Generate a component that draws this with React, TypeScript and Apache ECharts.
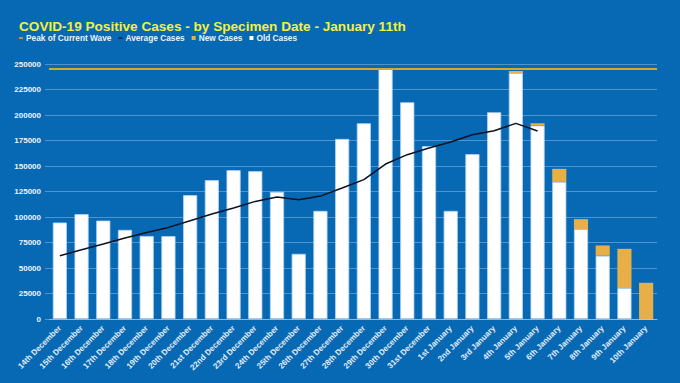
import React, { useEffect, useRef } from "react";
import * as echarts from "echarts";

const categories = [
  "14th December", "15th December", "16th December", "17th December", "18th December",
  "19th December", "20th December", "21st December", "22nd December", "23rd December",
  "24th December", "25th December", "26th December", "27th December", "28th December",
  "29th December", "30th December", "31st December", "1st January", "2nd January",
  "3rd January", "4th January", "5th January", "6th January", "7th January",
  "8th January", "9th January", "10th January",
];

const oldCases = [
  94600, 102800, 96500, 87400, 81300, 81300, 121400, 136100, 145900, 144900,
  124700, 63900, 106000, 176500, 191900, 245400, 212500, 169400, 106000, 161600,
  202700, 241200, 189600, 134400, 88100, 62000, 30400, 0,
];

const newCases = [
  0, 0, 0, 0, 0, 0, 0, 0, 0, 0,
  0, 0, 0, 0, 0, 0, 0, 0, 0, 0,
  0, 1900, 2300, 12800, 9800, 10100, 38400, 35500,
];

const averageCases = [
  62000, 67900, 73500, 79400, 84900, 89800, 96400, 102900, 108800, 115300,
  119600, 116900, 120500, 128400, 136600, 151900, 161100, 167600, 173500, 180700,
  184600, 191800, 184300, null, null, null, null, null,
];

const peakOfWave = [245400];

const yTicks = { min: 0, max: 250000, interval: 25000 };

const BG = "#0769b4";
const GRID = "#4f94cf";

export default function App() {
  const ref = useRef<HTMLDivElement>(null);

  useEffect(() => {
    if (!ref.current) return;
    const chart = echarts.init(ref.current, undefined, { renderer: "svg" });
    const font = "'Liberation Sans', Arial, sans-serif";
    const dash = "path://M0,1.2H4V2.8H0Z";
    chart.setOption({
      animation: false,
      backgroundColor: BG,
      textStyle: { fontFamily: font },
      title: {
        text: "COVID-19 Positive Cases - by Specimen Date - January 11th",
        left: 19,
        top: 19,
        padding: 0,
        textStyle: { color: "#f4f03c", fontSize: 13.6, fontWeight: "bold", fontFamily: font },
      },
      legend: {
        left: 19,
        top: 34,
        padding: 0,
        itemGap: 7,
        itemWidth: 4,
        itemHeight: 4,
        textStyle: { color: "#eef3fa", fontSize: 8.3, fontWeight: "bold", fontFamily: font, padding: [0, 0, 0, -2] },
        data: [
          { name: "Peak of Current Wave", icon: dash, itemStyle: { color: "#e0a92a", borderWidth: 0 } },
          { name: "Average Cases", icon: dash, itemStyle: { color: "#0c1e38", borderWidth: 0 } },
          { name: "New Cases", icon: "rect", itemStyle: { color: "#e8ae48", borderWidth: 0 } },
          { name: "Old Cases", icon: "rect", itemStyle: { color: "#ffffff", borderWidth: 0 } },
        ],
      },
      grid: { left: 49, right: 23, top: 64, bottom: 64 },
      xAxis: {
        type: "category",
        data: categories,
        axisLine: { lineStyle: { color: "#8cb7e0", width: 1 } },
        axisTick: { show: false },
        axisLabel: {
          rotate: 45,
          interval: 0,
          margin: 8,
          color: "#e6eef8",
          fontSize: 8,
          fontWeight: "bold",
          fontFamily: font,
        },
      },
      yAxis: {
        type: "value",
        min: yTicks.min,
        max: yTicks.max,
        interval: yTicks.interval,
        axisLine: { show: false },
        axisTick: { show: true, length: 4, lineStyle: { color: GRID } },
        splitLine: { lineStyle: { color: GRID, width: 1 } },
        axisLabel: {
          margin: 8,
          color: "#eef3fa",
          fontSize: 8,
          fontWeight: "bold",
          fontFamily: font,
          formatter: (v: number) => String(v),
        },
      },
      series: [
        {
          name: "Old Cases",
          type: "bar",
          stack: "total",
          data: oldCases,
          barCategoryGap: "35%",
          itemStyle: { color: "#ffffff", borderColor: "#b4d2ee", borderWidth: 0.8 },
        },
        {
          name: "New Cases",
          type: "bar",
          stack: "total",
          data: newCases,
          itemStyle: { color: "#e8ae48", borderWidth: 0 },
        },
        {
          name: "Average Cases",
          type: "line",
          data: averageCases,
          showSymbol: false,
          symbol: "none",
          connectNulls: false,
          lineStyle: { color: "#0c1220", width: 1.5 },
          itemStyle: { color: "#0c1e38" },
          z: 5,
        },
        {
          name: "Peak of Current Wave",
          type: "line",
          data: [],
          itemStyle: { color: "#e0a92a" },
          markLine: {
            silent: true,
            symbol: "none",
            label: { show: false },
            lineStyle: { color: "#d8a82a", width: 2, type: "solid" },
            data: peakOfWave.map((v) => ({ yAxis: v })),
          },
          z: 6,
        },
      ],
    });
    return () => chart.dispose();
  }, []);

  return (
    <div
      ref={ref}
      style={{ position: "fixed", left: 0, top: 0, width: 680, height: 383 }}
    />
  );
}
